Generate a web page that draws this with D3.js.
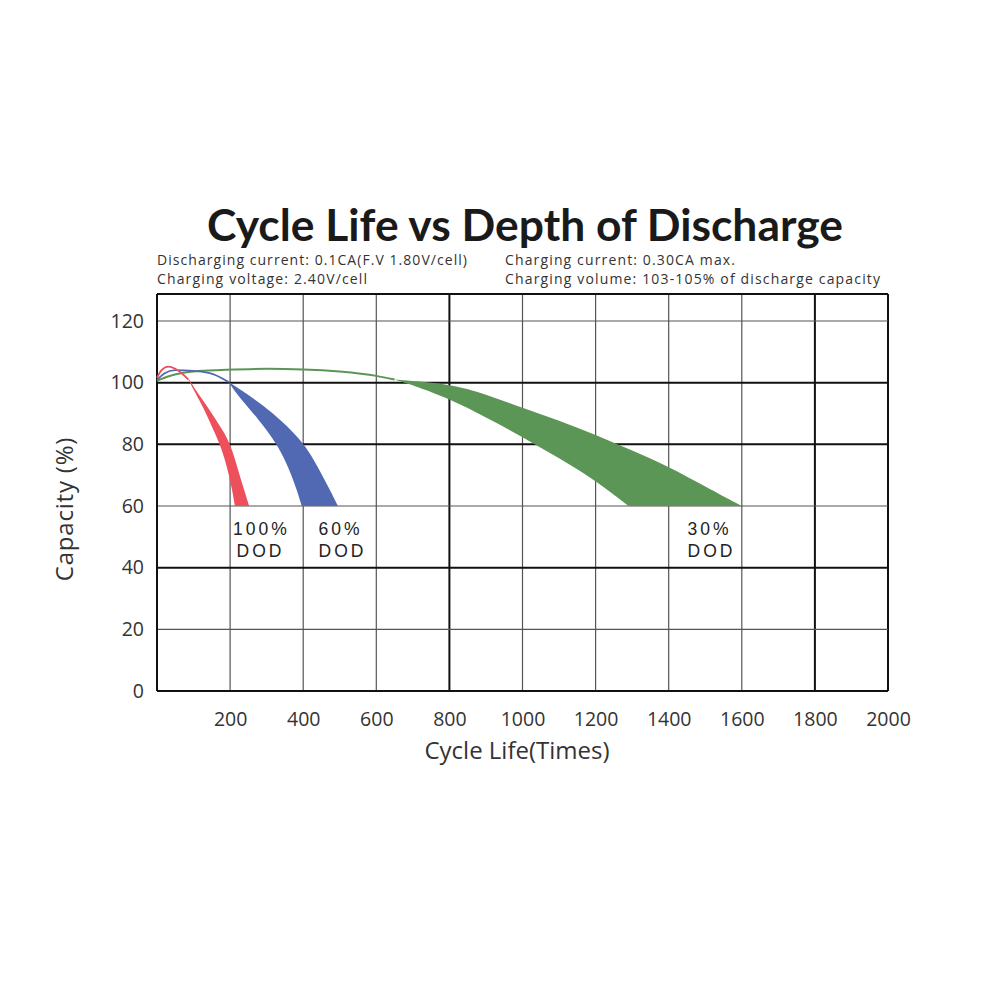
<!DOCTYPE html>
<html><head><meta charset="utf-8">
<script src="https://cdn.jsdelivr.net/npm/d3@7"></script>
<style>body{margin:0;background:#fff}</style>
</head><body>
<svg id="c" width="1000" height="1000"></svg>
<script>
const xTicks = [200,400,600,800,1000,1200,1400,1600,1800,2000];
const yTicks = [0,20,40,60,80,100,120];
const darkX = [800,1800,2000];
const darkY = [0,40,80,100];
// initial lines [cycles, capacity]
const redLine = [[0,101.6],[12,104],[31,105.2],[50,104.5],[70,102.8],[86,101]];
const blueLine = [[0,100.9],[20,103],[49,104.1],[100,103.8],[153,102.8],[196,100.2]];
const greenLine = [[0,100.6],[30,102],[72,103.2],[130,103.9],[190,104.2],[300,104.5],[400,104.3],[500,103.6],[600,102.2],[650,101]];
// red / blue bands: [capacity, cyclesLeft, cyclesRight]
const redBand = [[101,86,88],[96,108,115],[92,126,139],[88,142,161],[84,157,183],[80,172,200],[75,186,214],[70,197,226],[65,206,239],[60,213,252]];
const blueBand = [[100.2,196,197],[97,214,238],[92.7,244,290],[87.7,280,340],[84,304,372],[80,327,402],[75,350,429],[70,368,452],[65,383,474],[60,396,495]];
// green band edges: [cycles, capacity]
const greenUpper = [[650,101],[800,99.7],[900,96.3],[1000,91.8],[1100,87.8],[1200,83.1],[1300,78],[1400,72.8],[1500,66.3],[1600,60]];
const greenLower = [[650,101],[700,99.2],[800,94.8],[900,88.8],[1000,82.4],[1100,75.5],[1200,68.3],[1290,60]];
const labels = [{t:["100%","DOD"],x:[260,259]},{t:["60%","DOD"],x:[339,341]},{t:["30%","DOD"],x:[708,710]}];

const svg = d3.select("#c");
const L=157,R=888,T=294,B=691;
const x = d3.scaleLinear().domain([0,2000]).range([L,R]);
const y = d3.scaleLinear().domain([0,120]).range([B,321]);

// title
svg.append("text").attr("x",525).attr("y",241).attr("text-anchor","middle")
  .attr("font-family","Lato").attr("font-weight","bold").attr("font-size",44).attr("fill","#1a1a1a")
  .attr("textLength",636).attr("lengthAdjust","spacingAndGlyphs")
  .text("Cycle Life vs Depth of Discharge");
const sub = (t,xx,yy,w)=>svg.append("text").attr("x",xx).attr("y",yy).attr("font-family","Open Sans")
  .attr("font-size",14).attr("fill","#333").attr("textLength",w).attr("lengthAdjust","spacing").text(t);
sub("Discharging current: 0.1CA(F.V 1.80V/cell)",157,265,310);
sub("Charging current: 0.30CA max.",505,265,230);
sub("Charging voltage: 2.40V/cell",157,284,210);
sub("Charging volume: 103-105% of discharge capacity",505,284,375);

// grid
const g = svg.append("g");
xTicks.forEach(v=>{
  const dk = darkX.includes(v);
  g.append("line").attr("x1",x(v)).attr("x2",x(v)).attr("y1",T).attr("y2",B)
   .attr("stroke",dk?"#111":"#555").attr("stroke-width",dk?2:1.2);
});
yTicks.forEach(v=>{
  const dk = darkY.includes(v);
  g.append("line").attr("x1",L).attr("x2",R).attr("y1",y(v)).attr("y2",y(v))
   .attr("stroke",dk?"#111":"#555").attr("stroke-width",dk?2:1.2);
});
g.append("line").attr("x1",L).attr("x2",R).attr("y1",T).attr("y2",T).attr("stroke","#111").attr("stroke-width",2);
g.append("line").attr("x1",L).attr("x2",L).attr("y1",T).attr("y2",B).attr("stroke","#111").attr("stroke-width",2);

// axes labels via d3 axes
const xa = svg.append("g").attr("transform",`translate(0,${B})`)
  .call(d3.axisBottom(x).tickValues(xTicks).tickFormat(d3.format("d")).tickSize(0));
xa.selectAll("text").attr("y",35).attr("dy",0);
const ya = svg.append("g").attr("transform",`translate(${L},0)`)
  .call(d3.axisLeft(y).tickValues(yTicks).tickFormat(d3.format("d")).tickSize(0).tickPadding(13));
[xa,ya].forEach(a=>{a.select(".domain").remove();
  a.selectAll("text").attr("font-family","Open Sans").attr("font-size",19.5).attr("fill","#333");});

svg.append("text").attr("x",517).attr("y",759).attr("text-anchor","middle")
  .attr("font-family","Open Sans").attr("font-size",24).attr("fill","#333").text("Cycle Life(Times)");
svg.append("text").attr("transform","translate(73,509) rotate(-90)").attr("text-anchor","middle")
  .attr("font-family","Open Sans").attr("font-size",24).attr("letter-spacing",0.8).attr("fill","#333").text("Capacity (%)");

const cRed="#ee505b", cBlue="#5069b2", cGreen="#5c9657";
const areaV = d3.area().y(d=>y(d[0])).x0(d=>x(d[1])).x1(d=>x(d[2])).curve(d3.curveBasis);
const line = d3.line().x(d=>x(d[0])).y(d=>y(d[1])).curve(d3.curveMonotoneX);
const edge = d3.line().x(d=>x(d[0])).y(d=>y(d[1])).curve(d3.curveBasis);

const gPath = edge(greenUpper) + edge(greenLower.slice().reverse()).replace(/^M/,"L") + "Z";
svg.append("path").attr("d",gPath).attr("fill",cGreen);
svg.append("path").attr("d",line(greenLine)).attr("fill","none").attr("stroke",cGreen).attr("stroke-width",2);
svg.append("path").attr("d",areaV(blueBand)).attr("fill",cBlue);
svg.append("path").attr("d",line(blueLine)).attr("fill","none").attr("stroke",cBlue).attr("stroke-width",1.8);
svg.append("path").attr("d",areaV(redBand)).attr("fill",cRed);
svg.append("path").attr("d",line(redLine)).attr("fill","none").attr("stroke",cRed).attr("stroke-width",1.8);

labels.forEach(l=>{
  l.t.forEach((s,i)=>svg.append("text").attr("x",l.x[i]+1.5).attr("y",535+i*21.5).attr("text-anchor","middle")
    .attr("font-family","Liberation Sans").attr("font-size",17.5).attr("letter-spacing",3).attr("fill","#222").text(s));
});
</script>
</body></html>
